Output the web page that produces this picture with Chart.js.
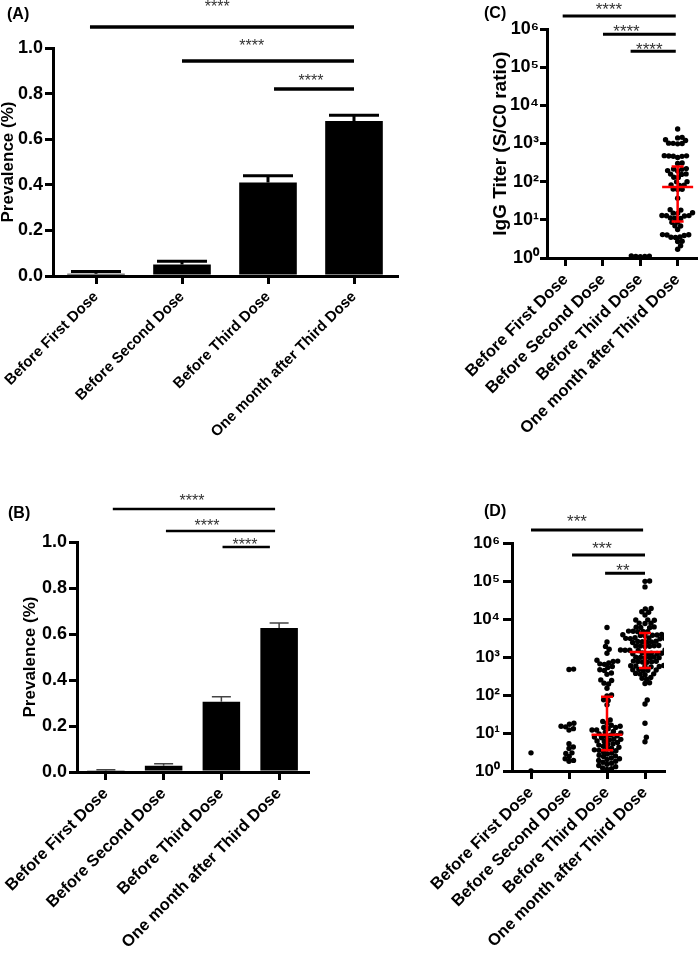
<!DOCTYPE html>
<html>
<head>
<meta charset="utf-8">
<script src="https://cdn.jsdelivr.net/npm/chart.js@4.4.1/dist/chart.umd.min.js"></script>
<style>
body { margin: 0; background: #fff; width: 699px; height: 955px; position: relative; overflow: hidden; }
canvas { position: absolute; }
.tag { position: absolute; font: bold 16px/1 Arial, 'Liberation Sans', sans-serif; color: #000; }
</style>
</head>
<body>
<canvas id="chartA" width="430" height="450" style="left:0;top:0"></canvas>
<canvas id="chartB" width="340" height="515" style="left:0;top:440px"></canvas>
<canvas id="chartC" width="279" height="440" style="left:420px;top:0"></canvas>
<canvas id="chartD" width="299" height="515" style="left:400px;top:440px"></canvas>
<div class="tag" style="left:7px;top:6px">(A)</div>
<div class="tag" style="left:8px;top:505px">(B)</div>
<div class="tag" style="left:484px;top:5px">(C)</div>
<div class="tag" style="left:484px;top:503px">(D)</div>
<script>
// Data
const doseLabels = ['Before First Dose', 'Before Second Dose', 'Before Third Dose', 'One month after Third Dose'];
const prevTicks = [0, 0.2, 0.4, 0.6, 0.8, 1.0];
const logTicks = [1, 10, 100, 1e3, 1e4, 1e5, 1e6];

const prevA = [0.01, 0.05, 0.41, 0.68];
const errA = [0.01, 0.015, 0.03, 0.025];
const prevB = [0.005, 0.027, 0.305, 0.626];
const errB = [0.005, 0.009, 0.022, 0.022];

const titerC = [
    [],
    [],
    [1.12, 1.1, 1.14, 1.1, 1.08],
    [2400, 1450, 1400, 1250, 1200, 1000, 1020, 980, 1010, 470, 480, 460, 475, 465, 430, 300, 310,
     215, 210, 220, 195, 190, 160, 155, 158, 130, 128, 99, 100, 82, 80, 81, 63, 64, 62, 37,
     18, 18.5, 15, 15.3, 14.8, 12.8, 13, 12.6, 12.9, 11, 11.2, 10.8, 8.6, 8.8, 6.9, 7, 5.6,
     4.0, 4.1, 3.9, 4.05, 3.5, 3.55, 3.45, 2.7, 2.75, 2.1, 1.7]
];
const medianC = [null, null, null, 72];
const iqrC = [null, null, null, [9, 250]];

const titerD = [
    [3.0, 1.0],
    [480, 470, 18, 17, 15, 14.5, 13, 12, 5.2, 4.3, 3.9, 3.0, 2.9, 2.4, 2.1, 1.9, 1.8],
    [6000, 2500, 1900, 1600, 1250, 820, 780, 760, 700, 660, 640, 560, 530, 460, 440, 380, 350,
     250, 240, 205, 195, 150, 100, 95, 75, 72, 55,
     22, 20, 18, 16, 15, 14, 14, 13, 12, 12, 11, 10.5, 10, 9.5,
     8.8, 8.5, 8, 7.8, 7.5, 7, 6.8, 6.5, 6.2, 6, 5.6, 5.2, 5, 4.8, 4.5, 4.2, 4, 3.8, 3.6, 3.5,
     3.4, 3.2, 3, 2.8, 2.6, 2.5, 2.4, 2.2, 2.1, 2, 1.9, 1.8, 1.7, 1.6, 1.5, 1.4, 1.3, 1.2, 1.15, 1.1],
    [100000, 98000, 70000, 19000, 18500, 15500, 15000, 12700, 9500, 9300, 9400, 7800, 7600, 7700,
     6100, 5900, 6000, 6200, 4800, 4700, 4600, 4750, 4650, 3900, 3800, 3700, 3850, 3750, 3650,
     3100, 3150, 3050, 3000, 3200, 3120, 2500, 2550, 2450, 2600, 2400, 2520, 1950, 2000, 1900,
     1980, 1920, 1960, 1520, 1500, 1550, 1480, 1530, 1510, 1250, 1280, 1220, 1260, 1240, 1230,
     980, 1000, 960, 990, 970, 950, 760, 780, 740, 770, 750, 730, 580, 600, 560, 590, 570, 550,
     455, 470, 440, 460, 450, 355, 370, 340, 360, 275, 290, 260, 200, 210, 74, 58, 18, 7.7, 5.9]
];
const medianD = [null, null, 9, 1350];
const iqrD = [null, null, [3.5, 90], [510, 4300]];

// significance brackets: [from, to, line y, text x, text y, text]
const sigA = [[-0.07, 3, 1.092, 1.41, 1.20, '****'], [1, 3, 0.943, 1.81, 1.026, '****'], [2.07, 3, 0.82, 2.5, 0.873, '****']];
const sigB = [[0.12, 2.93, 1.143, 1.49, 1.196, '****'], [1.04, 2.93, 1.048, 1.75, 1.087, '****'], [2.02, 2.84, 0.978, 2.41, 1.004, '****']];
const sigC = [[-0.08, 2.95, 2.2e6, 1.16, 4.2e6, '****'], [1, 2.95, 7.3e5, 1.63, 1.1e6, '****'], [1.74, 2.95, 2.6e5, 2.24, 3.8e5, '****']];
const sigD = [[0, 2.95, 2.2e6, 1.21, 4.8e6, '***'], [1.08, 3, 4.8e5, 1.87, 9.4e5, '***'], [1.95, 3, 1.6e5, 2.42, 2.5e5, '**']];

const FONT = "Arial, 'Liberation Sans', sans-serif";
Chart.defaults.font.family = FONT;
Chart.defaults.color = '#000';
Chart.defaults.animation = false;
Chart.defaults.plugins.legend.display = false;
Chart.defaults.plugins.tooltip.enabled = false;

const sup = ['\u2070', '\u00b9', '\u00b2', '\u00b3', '\u2074', '\u2075', '\u2076'];
const DOT = 4.6 / 38; // dot spacing in axis units (1 decade ~ 1 category ~ 38px)

// beeswarm layout of one column of points
function swarm(values, cat) {
    const placed = [];
    values.slice().sort((a, b) => a - b).forEach(v => {
        const y = Math.log10(v);
        const near = placed.filter(p => Math.abs(p.y - y) < DOT);
        const cands = [0];
        near.forEach(p => {
            const dx = Math.sqrt(DOT * DOT - (p.y - y) * (p.y - y));
            cands.push(p.x + dx, p.x - dx);
        });
        cands.sort((a, b) => Math.abs(a) - Math.abs(b));
        const x = cands.find(c => near.every(p => Math.hypot(p.x - c, p.y - y) >= DOT - 1e-9));
        placed.push({ x: x, y: y });
    });
    return placed.map(p => ({ x: cat + p.x, y: Math.pow(10, p.y) }));
}

// error bars, median/IQR and brackets
function marks(cfg) {
    return {
        id: 'marks',
        afterDatasetsDraw(chart) {
            const ctx = chart.ctx, xs = chart.scales.x, ys = chart.scales.y;
            ctx.save();
            ctx.lineCap = 'butt';
            if (cfg.err) {
                ctx.strokeStyle = cfg.errColor;
                ctx.lineWidth = cfg.errWidth;
                cfg.values.forEach((v, i) => {
                    const px = xs.getPixelForValue(i);
                    const y0 = ys.getPixelForValue(v), y1 = ys.getPixelForValue(v + cfg.err[i]);
                    ctx.beginPath();
                    ctx.moveTo(px, y0); ctx.lineTo(px, y1);
                    ctx.moveTo(px - cfg.cap / 2, y1); ctx.lineTo(px + cfg.cap / 2, y1);
                    ctx.stroke();
                });
            }
            if (cfg.median) {
                ctx.strokeStyle = '#ff0000';
                ctx.lineWidth = 2.5;
                cfg.median.forEach((m, i) => {
                    if (m === null) return;
                    const px = xs.getPixelForValue(i);
                    const pm = ys.getPixelForValue(m);
                    const lo = ys.getPixelForValue(cfg.iqr[i][0]), hi = ys.getPixelForValue(cfg.iqr[i][1]);
                    ctx.beginPath();
                    ctx.moveTo(px - 15.5, pm); ctx.lineTo(px + 15.5, pm);
                    ctx.moveTo(px, lo); ctx.lineTo(px, hi);
                    ctx.moveTo(px - 6, lo); ctx.lineTo(px + 6, lo);
                    ctx.moveTo(px - 6, hi); ctx.lineTo(px + 6, hi);
                    ctx.stroke();
                });
            }
            ctx.strokeStyle = '#000';
            ctx.fillStyle = '#333';
            ctx.lineWidth = cfg.sigWidth;
            ctx.font = cfg.starSize + 'px ' + FONT;
            ctx.textAlign = 'center';
            ctx.textBaseline = 'alphabetic';
            cfg.sig.forEach(s => {
                const py = ys.getPixelForValue(s[2]);
                ctx.beginPath();
                ctx.moveTo(xs.getPixelForValue(s[0]), py);
                ctx.lineTo(xs.getPixelForValue(s[1]), py);
                ctx.stroke();
                ctx.fillText(s[5], xs.getPixelForValue(s[3]), ys.getPixelForValue(s[4]) + 0.58 * cfg.starSize);
            });
            ctx.restore();
        }
    };
}

function xAxis(fontSize, height, pad) {
    return {
        type: 'linear', min: -0.5, max: 3.5, offset: false,
        afterBuildTicks: s => { s.ticks = doseLabels.map((_, i) => ({ value: i })); },
        afterFit: s => { s.height = height; s.paddingLeft = 0; s.paddingRight = 0; },
        ticks: {
            autoSkip: false, minRotation: 45, maxRotation: 45, padding: pad,
            font: { size: fontSize, weight: 'bold' },
            callback: v => doseLabels[v]
        },
        grid: { offset: false, drawOnChartArea: false, tickLength: 8, lineWidth: 3, color: '#000' },
        border: { width: 3, color: '#000' }
    };
}

function yAxis(opts) {
    const log = opts.log;
    return {
        type: log ? 'logarithmic' : 'linear',
        min: log ? 1 : 0, max: log ? 1e6 : 1,
        afterBuildTicks: s => { s.ticks = (log ? logTicks : prevTicks).map(v => ({ value: v })); },
        afterFit: s => { s.width = opts.width; s.paddingTop = 0; s.paddingBottom = 0; },
        ticks: {
            padding: opts.pad,
            font: { size: opts.size, weight: 'bold' },
            callback: v => log ? '10' + sup[Math.round(Math.log10(v))] : v.toFixed(1)
        },
        title: {
            display: !!opts.title, text: opts.title || '', padding: 0,
            font: { size: opts.titleSize || 17, weight: 'bold', lineHeight: 1 }
        },
        grid: { drawOnChartArea: false, tickLength: opts.tick, lineWidth: 3, color: '#000' },
        border: { width: 3, color: '#000' }
    };
}

function barChart(id, values, errs, sig, o) {
    return new Chart(document.getElementById(id), {
        type: 'bar',
        data: {
            datasets: [{
                data: values.map((v, i) => ({ x: i, y: v })),
                backgroundColor: '#000',
                barPercentage: o.barPct,
                categoryPercentage: 1
            }]
        },
        options: {
            responsive: false,
            layout: { padding: o.padding },
            scales: {
                x: xAxis(o.labelSize, o.xHeight, o.xPad),
                y: yAxis({ width: o.yWidth, size: 18, pad: 2, tick: 8, title: 'Prevalence (%)' })
            }
        },
        plugins: [marks({ values: values, err: errs, cap: o.cap, errColor: o.errColor, errWidth: o.errWidth, sig: sig, sigWidth: o.sigWidth, starSize: 16 })]
    });
}

function dotChart(id, titers, median, iqr, sig, o) {
    let pts = [];
    titers.forEach((vals, i) => { pts = pts.concat(swarm(vals, i)); });
    return new Chart(document.getElementById(id), {
        type: 'scatter',
        data: {
            datasets: [{
                data: pts,
                backgroundColor: '#000',
                borderWidth: 0,
                pointRadius: 2.7,
                pointHoverRadius: 2.7
            }]
        },
        options: {
            responsive: false,
            layout: { padding: o.padding },
            scales: {
                x: xAxis(o.labelSize, o.xHeight, o.xPad),
                y: yAxis({ log: true, width: o.yWidth, size: o.tickSize, pad: o.yPad, tick: o.yTick, title: o.title, titleSize: 19 })
            }
        },
        plugins: [marks({ median: median, iqr: iqr, sig: sig, sigWidth: 3, starSize: 17 })]
    });
}

barChart('chartA', prevA, errA, sigA, {
    padding: { left: 0, top: 48, right: 33, bottom: 0 },
    yWidth: 53, xHeight: 174, xPad: 4, labelSize: 15,
    barPct: 0.67, cap: 50, errColor: '#000', errWidth: 3, sigWidth: 3.5
});

barChart('chartB', prevB, errB, sigB, {
    padding: { left: 21.5, top: 102, right: 32, bottom: 0 },
    yWidth: 55.5, xHeight: 183, xPad: 4, labelSize: 16.5,
    barPct: 0.65, cap: 19, errColor: '#444', errWidth: 1.5, sigWidth: 2.5
});

dotChart('chartC', titerC, medianC, iqrC, sigC, {
    padding: { left: 71.5, top: 29, right: 0, bottom: 0 },
    yWidth: 55.5, xHeight: 182, xPad: 4, labelSize: 16.5,
    tickSize: 18, yPad: 1, yTick: 7, title: 'IgG Titer (S/C0 ratio)'
});

dotChart('chartD', titerD, medianD, iqrD, sigD, {
    padding: { left: 0, top: 103, right: 35, bottom: 0 },
    yWidth: 112, xHeight: 184, xPad: 4, labelSize: 16.5,
    tickSize: 17, yPad: 3, yTick: 9, title: null
});
</script>
</body>
</html>
